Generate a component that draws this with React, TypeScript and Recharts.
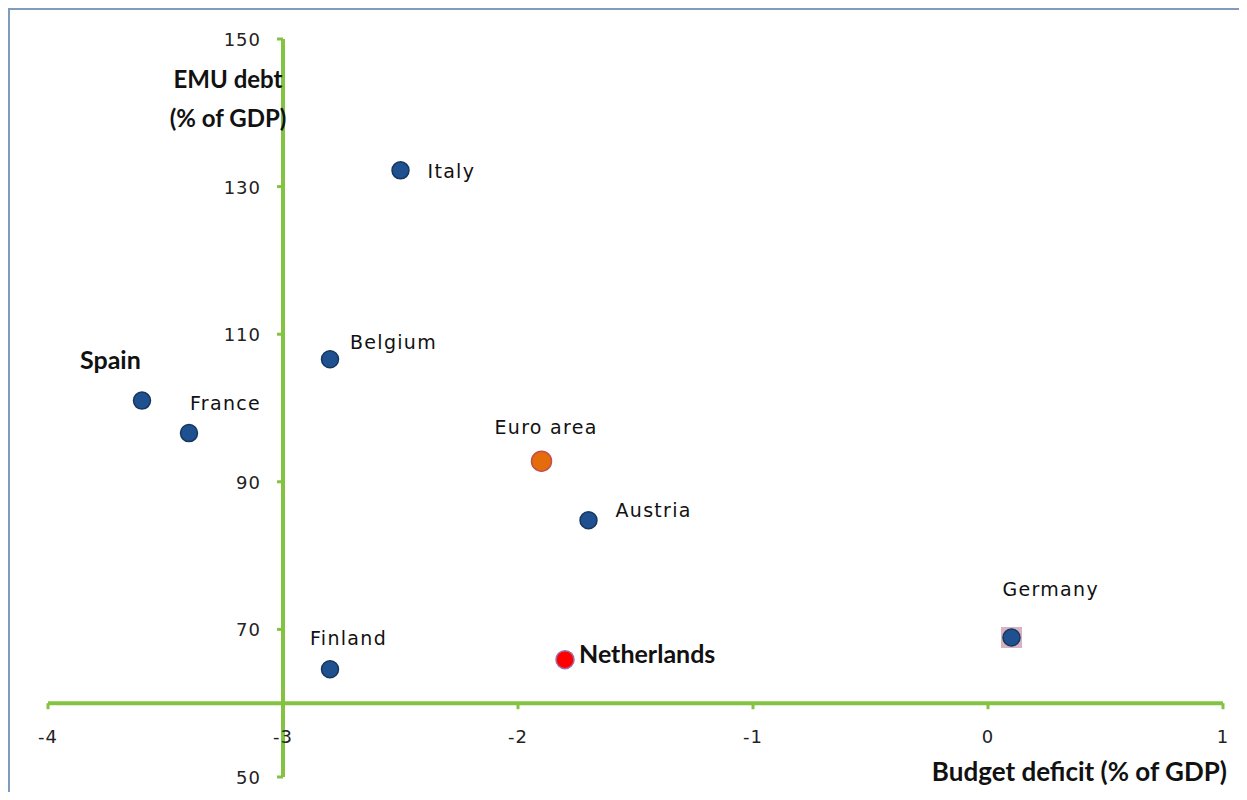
import React from 'react';
import { ScatterChart, Scatter, XAxis, YAxis, ReferenceLine, ReferenceDot } from 'recharts';

// budget deficit vs EMU debt, both % of GDP
const countries = ['Italy', 'Belgium', 'Spain', 'France', 'Euro area', 'Austria', 'Germany', 'Finland', 'Netherlands'];
const budgetDeficit = [-2.5, -2.8, -3.6, -3.4, -1.9, -1.7, 0.1, -2.8, -1.8];
const emuDebt = [132.2, 106.6, 101.0, 96.6, 92.8, 84.8, 68.9, 64.6, 65.9];

const xTicks = [-4, -3, -2, -1, 0, 1];
const yTicks = [50, 70, 90, 110, 130, 150];
const xAxisCross = 60; // horizontal axis sits at debt = 60
const yAxisCross = -3; // vertical axis sits at deficit = -3

const points = countries.map((name, i) => ({ name, deficit: budgetDeficit[i], debt: emuDebt[i] }));

const GREEN = '#84C341';
const FRAME = '#7F9CBF';
const TICK_FONT = '"DejaVu Sans", Verdana, sans-serif';
const BOLD_FONT = 'Lato, "Liberation Sans", sans-serif';

const defaultDot = { fill: '#1F5190', stroke: '#17375E', r: 8.5 };
const dotStyle: Record<string, { fill: string; stroke: string; r: number }> = {
  'Euro area': { fill: '#E46C0A', stroke: '#C0504D', r: 10 },
  Netherlands: { fill: '#FF0000', stroke: '#9B6FA8', r: 9 },
};

// where each country's name goes relative to its dot
const labelPlace: Record<string, { dx: number; dy: number; bold?: boolean }> = {
  Italy: { dx: 27, dy: 8 },
  Belgium: { dx: 20, dy: -10 },
  Spain: { dx: -62, dy: -32, bold: true },
  France: { dx: 1, dy: -23 },
  'Euro area': { dx: -47, dy: -27 },
  Austria: { dx: 27, dy: -3 },
  Germany: { dx: -9, dy: -42 },
  Finland: { dx: -20, dy: -24 },
  Netherlands: { dx: 14, dy: 3, bold: true },
};

const CountryDot = (props: any) => {
  const { cx, cy, payload } = props;
  const name = payload.name;
  const st = dotStyle[name] || defaultDot;
  const lp = labelPlace[name] || { dx: 12, dy: -10 };
  return (
    <g>
      {name === 'Germany' && (
        <rect x={cx - 10.5} y={cy - 10.5} width={21} height={21} fill="#D8B2C0" />
      )}
      <circle cx={cx} cy={cy} r={st.r} fill={st.fill} stroke={st.stroke} strokeWidth={1.5} />
      <text
        x={cx + lp.dx}
        y={cy + lp.dy}
        fill="#111"
        fontFamily={lp.bold ? BOLD_FONT : TICK_FONT}
        fontWeight={lp.bold ? 700 : 400}
        fontSize={lp.bold ? 25 : 19}
        letterSpacing={lp.bold ? 0 : 1.3}
      >
        {name}
      </text>
    </g>
  );
};

const XTickMark = ({ cx, cy, value }: any) => (
  <g>
    <line x1={cx} y1={cy} x2={cx} y2={cy + 6} stroke={GREEN} strokeWidth={3} />
    <text x={cx} y={cy + 40} textAnchor="middle" fill="#222" fontFamily={TICK_FONT} fontSize={18} letterSpacing={1}>
      {value}
    </text>
  </g>
);

const YTickMark = ({ cx, cy, value }: any) => (
  <g>
    <line x1={cx} y1={cy} x2={cx - 6} y2={cy} stroke={GREEN} strokeWidth={3} />
    <text x={cx - 22} y={cy + 7} textAnchor="end" fill="#222" fontFamily={TICK_FONT} fontSize={18} letterSpacing={1}>
      {value}
    </text>
  </g>
);

const YTitle = ({ cx, cy }: any) => (
  <text textAnchor="middle" fill="#111" fontFamily={BOLD_FONT} fontWeight={700} fontSize={24}>
    <tspan x={cx - 55} y={cy + 49}>EMU debt</tspan>
    <tspan x={cx - 55} y={cy + 88}>(% of  GDP)</tspan>
  </text>
);

const XTitle = ({ cx, cy }: any) => (
  <text x={cx + 4} y={cy + 4} textAnchor="end" fill="#111" fontFamily={BOLD_FONT} fontWeight={700} fontSize={26}>
    Budget deficit (% of GDP)
  </text>
);

export default function App() {
  return (
    <div style={{ position: 'relative', width: 1231, height: 784, overflow: 'hidden', background: '#fff' }}>
      {/* frame: top and left edges only, the rest is cut off in the original */}
      <div style={{ position: 'absolute', left: 0, top: 0, width: 2, height: 784, background: FRAME }} />
      <div style={{ position: 'absolute', left: 0, top: 0, width: 1231, height: 2, background: FRAME }} />
      <div style={{ position: 'absolute', left: 2, top: 0 }}>
        <ScatterChart width={1229} height={784} margin={{ top: 31, right: 16, bottom: 15, left: 38 }}>
          <XAxis type="number" dataKey="deficit" domain={[-4, 1]} ticks={xTicks} hide />
          <YAxis type="number" dataKey="debt" domain={[50, 150]} ticks={yTicks} hide />
          <ReferenceLine y={xAxisCross} stroke={GREEN} strokeWidth={4} ifOverflow="visible" />
          <ReferenceLine x={yAxisCross} stroke={GREEN} strokeWidth={4} ifOverflow="visible" />
          {xTicks.map((t) => (
            <ReferenceDot
              key={'x' + t}
              x={t}
              y={xAxisCross}
              ifOverflow="visible"
              shape={(p: any) => <XTickMark cx={p.cx} cy={p.cy} value={t} />}
            />
          ))}
          {yTicks.map((t) => (
            <ReferenceDot
              key={'y' + t}
              x={yAxisCross}
              y={t}
              ifOverflow="visible"
              shape={(p: any) => <YTickMark cx={p.cx} cy={p.cy} value={t} />}
            />
          ))}
          <ReferenceDot
            x={yAxisCross}
            y={150}
            ifOverflow="visible"
            shape={(p: any) => <YTitle cx={p.cx} cy={p.cy} />}
          />
          <ReferenceDot x={1} y={50} ifOverflow="visible" shape={(p: any) => <XTitle cx={p.cx} cy={p.cy} />} />
          <Scatter data={points} shape={CountryDot} isAnimationActive={false} />
        </ScatterChart>
      </div>
    </div>
  );
}
